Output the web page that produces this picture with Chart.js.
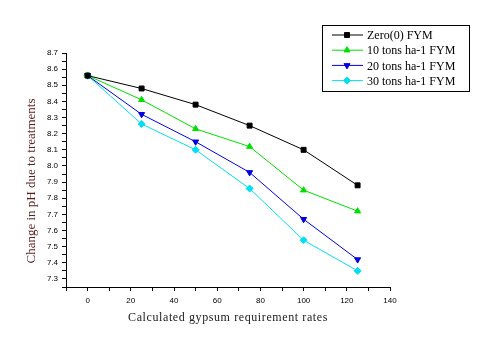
<!DOCTYPE html>
<html lang="en">
  <head>
    <meta charset="UTF-8" />
    <title>Change in pH</title>
    <script src="https://cdn.jsdelivr.net/npm/chart.js"></script>
    <style>
      body {
        margin: 0;
        background: #fff;
      }
      canvas {
        display: block;
      }
    </style>
  </head>
  <body>
    <canvas id="phChart" width="493" height="351"></canvas>

    <script>
      const rates = [0, 25, 50, 75, 100, 125];
      const zeroFym = [8.56, 8.48, 8.38, 8.25, 8.1, 7.88];
      const tons10 = [8.56, 8.41, 8.23, 8.12, 7.85, 7.72];
      const tons20 = [8.56, 8.32, 8.15, 7.96, 7.67, 7.42];
      const tons30 = [8.56, 8.26, 8.1, 7.86, 7.54, 7.35];
      const seriesNames = [
        "Zero(0) FYM",
        "10 tons ha-1 FYM",
        "20 tons ha-1 FYM",
        "30 tons ha-1 FYM",
      ];

      function points(values) {
        return rates.map((r, i) => ({ x: r, y: values[i] }));
      }

      function makeSet(name, values, color, style, rotation) {
        return {
          label: name,
          data: points(values),
          borderColor: color,
          backgroundColor: color,
          borderWidth: 1,
          pointStyle: style,
          pointRotation: rotation || 0,
          pointRadius: 3.5,
          pointBorderWidth: 1,
        };
      }

      // legend box in the top right, drawn by hand
      const boxLegend = {
        id: "boxLegend",
        afterDraw(chart) {
          const ctx = chart.ctx;
          ctx.save();
          ctx.strokeStyle = "#000";
          ctx.lineWidth = 1;
          ctx.strokeRect(322.5, 25.5, 147, 66);
          ctx.font = "12px 'Liberation Serif', 'Times New Roman', serif";
          ctx.textBaseline = "middle";
          chart.data.datasets.forEach((ds, i) => {
            const y = 35 + i * 15.2;
            ctx.strokeStyle = ds.borderColor;
            ctx.fillStyle = ds.borderColor;
            ctx.beginPath();
            ctx.moveTo(332, y);
            ctx.lineTo(363, y);
            ctx.stroke();
            Chart.helpers.drawPoint(
              ctx,
              {
                pointStyle: ds.pointStyle,
                rotation: ds.pointRotation,
                radius: 3.5,
                borderWidth: 1,
              },
              347,
              y
            );
            ctx.fillStyle = "#000";
            ctx.fillText(ds.label, 367, y + 1);
          });
          ctx.restore();
        },
      };

      // axis titles
      const axisTitles = {
        id: "axisTitles",
        afterDraw(chart) {
          const ctx = chart.ctx;
          ctx.save();
          ctx.font = "12px 'Liberation Serif', 'Times New Roman', serif";
          ctx.textAlign = "center";
          ctx.textBaseline = "middle";
          ctx.fillStyle = "#202020";
          ctx.letterSpacing = "0.6px";
          ctx.fillText("Calculated gypsum requirement rates", 228, 318);
          ctx.letterSpacing = "0px";
          ctx.translate(32, 181);
          ctx.rotate(-Math.PI / 2);
          ctx.fillStyle = "#5c1e1e";
          ctx.font = "13px 'Liberation Serif', 'Times New Roman', serif";
          ctx.fillText("Change in pH due to treatments", 0, 0);
          ctx.restore();
        },
      };

      const ctx = document.getElementById("phChart").getContext("2d");
      new Chart(ctx, {
        type: "line",
        data: {
          datasets: [
            makeSet(seriesNames[0], zeroFym, "#000000", "rect"),
            makeSet(seriesNames[1], tons10, "#00e000", "triangle"),
            makeSet(seriesNames[2], tons20, "#0000e0", "triangle", 180),
            makeSet(seriesNames[3], tons30, "#00e0f0", "rectRot"),
          ],
        },
        options: {
          responsive: false,
          animation: false,
          layout: { padding: { top: 53, right: 103, left: 0, bottom: 0 } },
          plugins: {
            legend: { display: false },
            tooltip: { enabled: false },
          },
          scales: {
            x: {
              type: "linear",
              min: -10,
              max: 140,
              afterFit(scale) {
                scale.height = 64;
              },
              border: { display: true, color: "#000", width: 1 },
              grid: {
                drawOnChartArea: false,
                tickLength: 4,
                tickColor: "#000",
              },
              ticks: {
                stepSize: 10,
                autoSkip: false,
                maxRotation: 0,
                padding: 5,
                color: "#000",
                font: { family: "Arial, 'Liberation Sans', sans-serif", size: 8 },
                callback: (v) => (v % 20 === 0 ? v : ""),
              },
            },
            y: {
              type: "linear",
              min: 7.25,
              max: 8.7,
              afterFit(scale) {
                scale.width = 66;
              },
              border: { display: true, color: "#000", width: 1 },
              grid: {
                drawOnChartArea: false,
                tickLength: 4,
                tickColor: "#000",
              },
              ticks: {
                stepSize: 0.05,
                autoSkip: false,
                padding: 4,
                color: "#000",
                font: { family: "Arial, 'Liberation Sans', sans-serif", size: 8 },
                callback: (v) => {
                  const n = Math.round(v * 100);
                  return n % 10 === 0 ? (n / 100).toFixed(1) : "";
                },
              },
            },
          },
        },
        plugins: [boxLegend, axisTitles],
      });
    </script>
  </body>
</html>
